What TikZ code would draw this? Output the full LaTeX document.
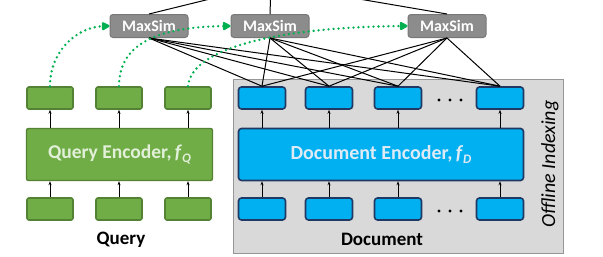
\documentclass[tikz,border=0pt]{standalone}
\usepackage{fontspec}
\setmainfont{Carlito}
\usetikzlibrary{arrows.meta}
\definecolor{qfill}{RGB}{112,173,71}
\definecolor{qline}{RGB}{84,130,53}
\definecolor{qtext}{RGB}{226,240,217}
\definecolor{dfill}{RGB}{0,176,240}
\definecolor{dline}{RGB}{31,56,100}
\definecolor{dtext}{RGB}{222,235,247}
\definecolor{msfill}{RGB}{140,140,140}
\definecolor{msline}{RGB}{120,120,120}
\definecolor{panel}{RGB}{217,217,217}
\definecolor{panelline}{RGB}{150,150,150}
\definecolor{simgreen}{RGB}{0,176,80}
\newcommand{\encsub}[1]{\textit{f}\raisebox{-0.4ex}{\fontsize{13}{14}\selectfont\textit{#1}}}
\begin{document}
\begin{tikzpicture}[x=1pt,y=-1pt,
  qvec/.style={draw=qline,fill=qfill,line width=1.6pt,rounded corners=2pt,
    minimum width=46pt,minimum height=22pt,inner sep=0pt},
  dvec/.style={draw=dline,fill=dfill,line width=1.6pt,rounded corners=3pt,
    minimum width=47pt,minimum height=22pt,inner sep=0pt},
  qenc/.style={draw=qline,fill=qfill,line width=1.4pt,rounded corners=2pt,
    minimum width=186pt,minimum height=52pt,inner sep=0pt,
    text=qtext,font=\fontsize{19.5}{21}\selectfont\bfseries},
  denc/.style={draw=dline,fill=dfill,line width=1.6pt,rounded corners=3pt,
    minimum width=285pt,minimum height=52pt,inner sep=0pt,
    text=dtext,font=\fontsize{20}{22}\selectfont\bfseries},
  maxsim/.style={draw=msline,fill=msfill,line width=1pt,rounded corners=3pt,
    minimum width=78pt,minimum height=23pt,inner sep=0pt,
    text=white,font=\fontsize{16}{18}\selectfont\bfseries},
  feed/.style={-{Stealth[length=4pt,width=3pt]},line width=0.8pt,black},
  sim/.style={line width=1pt,black},
  match/.style={simgreen,line width=2.6pt,dash pattern=on 0pt off 5pt,line cap=round,
    -{Triangle[length=9pt,width=9pt,round]}},
  caption/.style={font=\fontsize{19}{21}\selectfont\bfseries,text=black},
  dot/.style={circle,fill=black,inner sep=0pt,minimum size=3.4pt}
]
\useasboundingbox (0,0) rectangle (603,257);
\clip (0,0) rectangle (603,257);

% offline indexing panel
\node[draw=panelline,fill=panel,line width=0.8pt,minimum width=330pt,minimum height=174pt,
  inner sep=0pt] (panel) at (398,166) {};
\node[rotate=90,font=\fontsize{20}{22}\selectfont\itshape] (offline) at (550,164) {Offline Indexing};

% MaxSim operators
\node[maxsim] (m1) at (149,26) {MaxSim};
\node[maxsim] (m2) at (270,26) {MaxSim};
\node[maxsim] (m3) at (447,26) {MaxSim};
\coordinate (top) at (271,-16);

% query side
\node[qvec] (q1) at (50,98) {};
\node[qvec] (q2) at (119,98) {};
\node[qvec] (q3) at (188,98) {};
\node[qenc] (qenc) at (119.5,154.5) {Query Encoder,\,\encsub{Q}};
\node[qvec] (t1) at (50,209) {};
\node[qvec] (t2) at (119,209) {};
\node[qvec] (t3) at (188,209) {};
\node[caption] (qlabel) at (121,240) {Query};

% document side
\node[dvec] (d1) at (262,98) {};
\node[dvec] (d2) at (329,98) {};
\node[dvec] (d3) at (398,98) {};
\node[dvec] (d4) at (500,98) {};
\foreach \x [count=\k] in {439,450,461} {
  \node[dot] (ddot\k) at (\x,100) {};
  \node[dot] (sdot\k) at (\x,211) {};
}
\node[denc] (denc) at (381,154.5) {Document Encoder,\,\encsub{D}};
\node[dvec] (s1) at (262,209) {};
\node[dvec] (s2) at (329,209) {};
\node[dvec] (s3) at (398,209) {};
\node[dvec] (s4) at (500,209) {};
\node[caption] (dlabel) at (382,239) {Document};

% encoder inputs and outputs
\foreach \i in {1,2,3} {
  \draw[feed] (t\i.north) -- (t\i.north |- qenc.south);
  \draw[feed] (q\i.south |- qenc.north) -- (q\i.south);
}
\foreach \i in {1,2,3,4} {
  \draw[feed] (s\i.north) -- (s\i.north |- denc.south);
  \draw[feed] (d\i.south |- denc.north) -- (d\i.south);
}

% all-to-all similarity edges
\foreach \m in {m1,m2,m3} {
  \foreach \d in {d1,d2,d3,d4} {
    \draw[sim] (\d.north) -- (\m.south);
  }
  \draw[sim] (\m.north) -- (top);
}

% query embeddings routed to their MaxSim
\draw[match] (q1.north) .. controls (50,50) and (78,27) .. (m1.west);
\draw[match] (q2.north) .. controls (119,40) and (165,27) .. (m2.west);
\draw[match] (q3.north) .. controls (192,45) and (290,27) .. (m3.west);
\end{tikzpicture}
\end{document}
